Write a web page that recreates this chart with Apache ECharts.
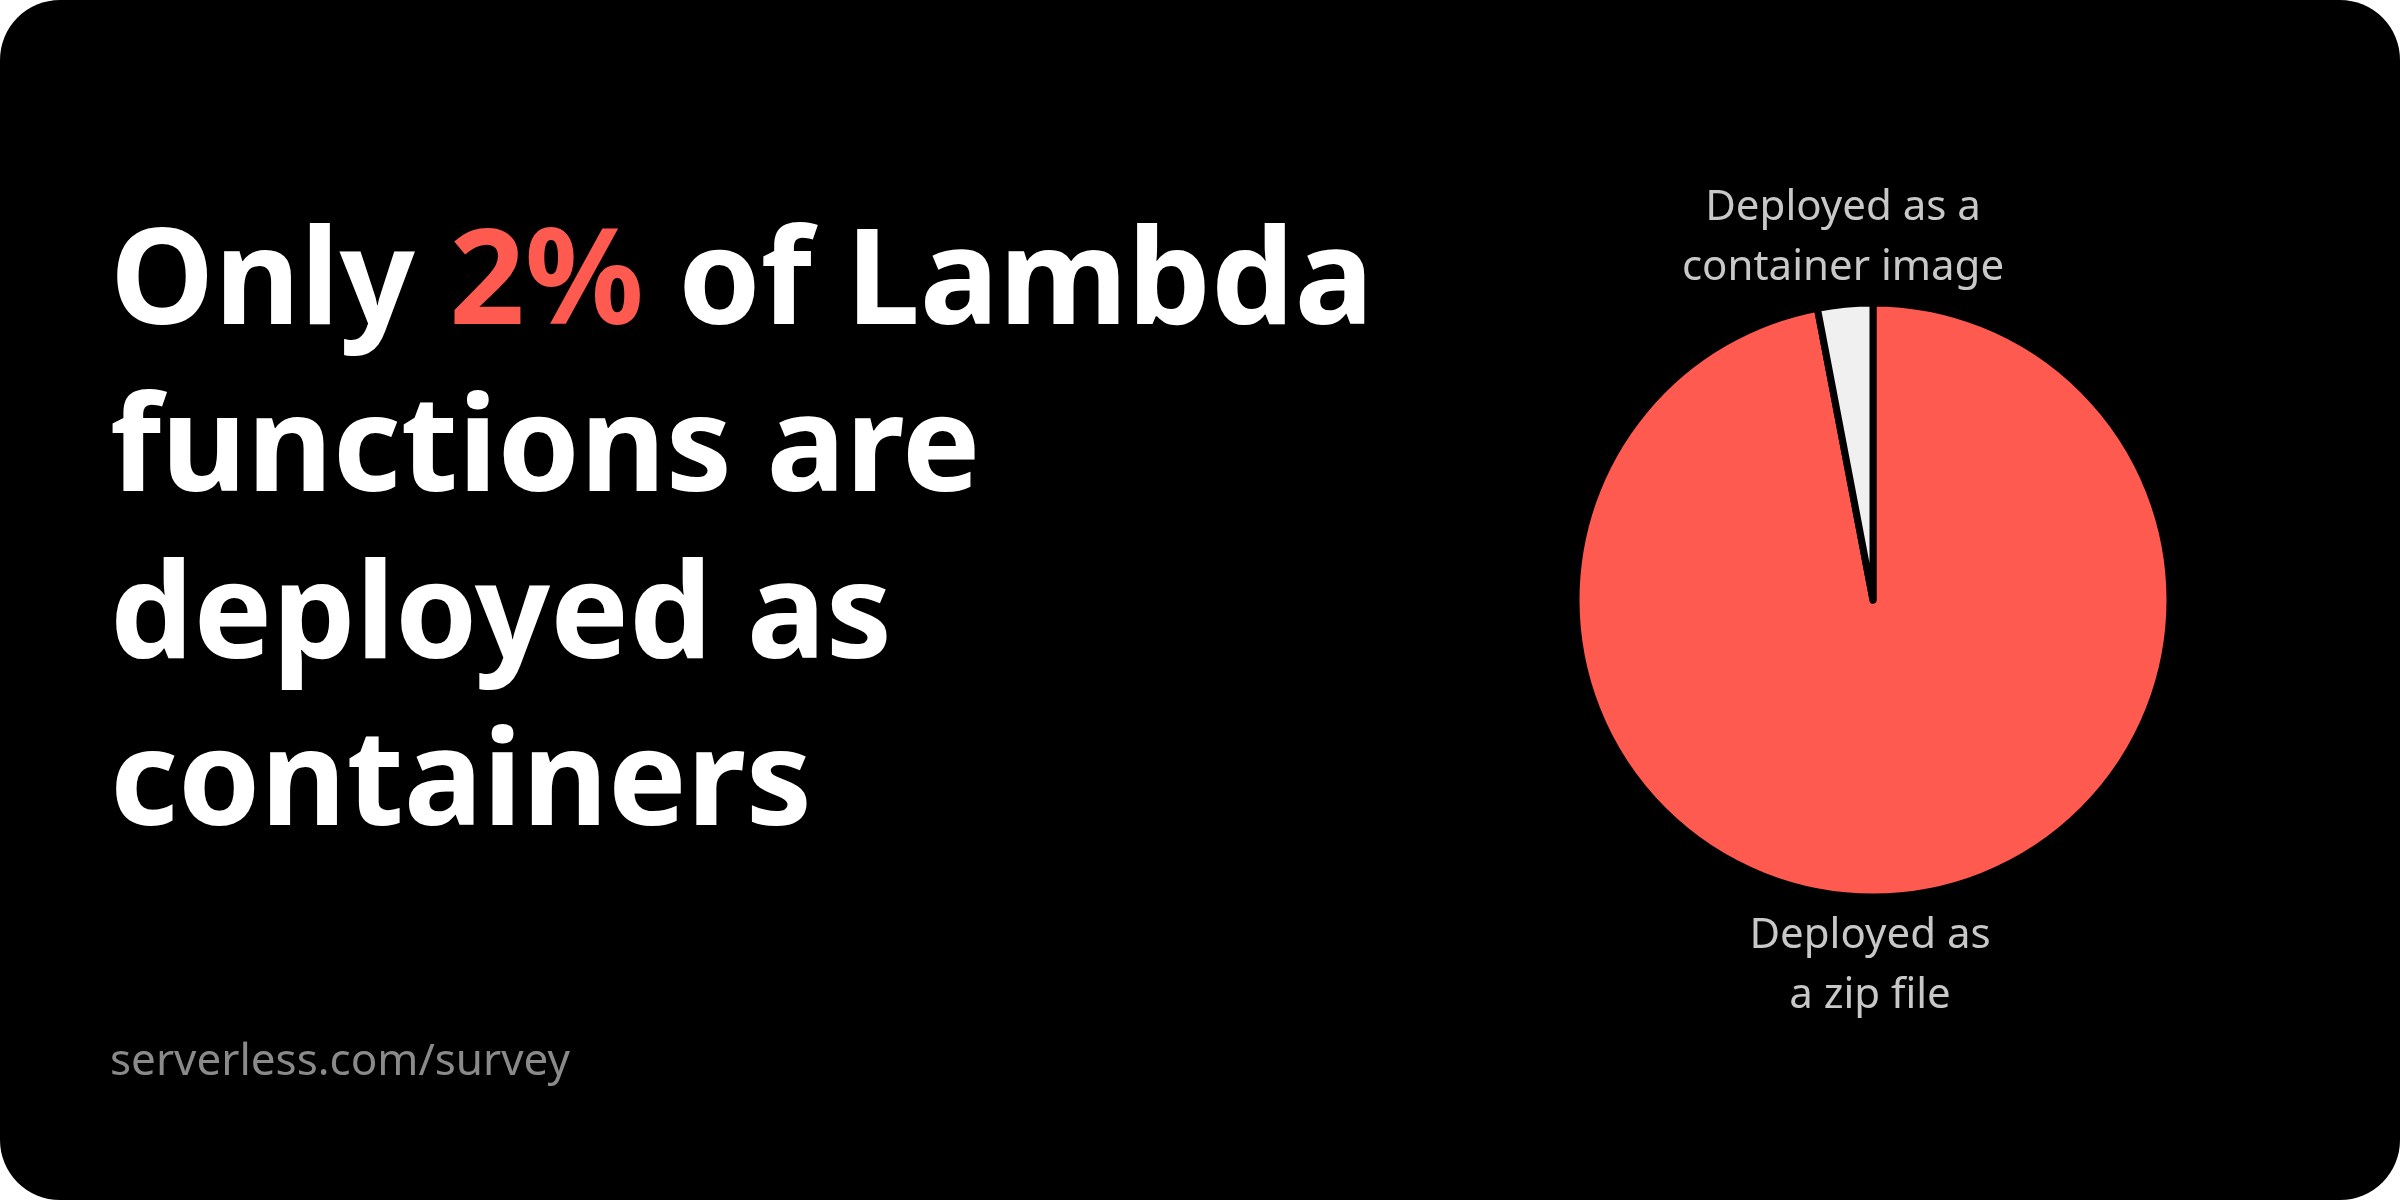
<!DOCTYPE html>
<html><head><meta charset="utf-8">
<script src="https://cdn.jsdelivr.net/npm/echarts@6/dist/echarts.min.js"></script>
<style>html,body{margin:0;background:#fff}#c{width:2400px;height:1200px}</style>
</head><body><div id="c"></div>
<script>
const categories = ['Deployed as\na zip file', 'Deployed as a\ncontainer image'];
const values = [97, 3];
const colors = ['#ff5a50', '#f0f0f0'];
const titleLines = ['functions are', 'deployed as', 'containers'];
const F = '"Noto Sans", Lato, sans-serif';
const chart = echarts.init(document.getElementById('c'));
const g = [
  {type:'rect', z:-10, shape:{x:0,y:0,width:2400,height:1200,r:60}, style:{fill:'#000'}},
  {type:'text', left:110, top:220, style:{rich:{w:{fill:'#fff',fontSize:132,fontWeight:'bold',fontFamily:F},r:{fill:'#ff5a50',fontSize:132,fontWeight:'bold',fontFamily:F}}, text:'{w|Only }{r|2%}{w| of Lambda}'}},
  {type:'text', left:110, top:1040, style:{text:'serverless.com/survey', fill:'#8a8a8a', fontSize:44, fontFamily:F}},
  {type:'text', x:1843, y:238, style:{text:categories[1], fill:'#c8c8c8', fontSize:42, fontFamily:F, align:'center', verticalAlign:'middle', lineHeight:60}},
  {type:'text', x:1870, y:966, style:{text:categories[0], fill:'#c8c8c8', fontSize:42, fontFamily:F, align:'center', verticalAlign:'middle', lineHeight:60}}
];
titleLines.forEach((t,i)=>g.push({type:'text', left:110, top:387+i*167, style:{text:t, fill:'#fff', fontSize:132, fontWeight:'bold', fontFamily:F}}));
chart.setOption({
  backgroundColor:'transparent',
  graphic:g,
  series:[{type:'pie', center:[1873,600], radius:[0,297], startAngle:90, clockwise:true,
    label:{show:false}, labelLine:{show:false}, silent:true,
    itemStyle:{borderColor:'#000', borderWidth:7},
    data:values.map((v,i)=>({name:categories[i], value:v, itemStyle:{color:colors[i]}}))}]
});
</script></body></html>
